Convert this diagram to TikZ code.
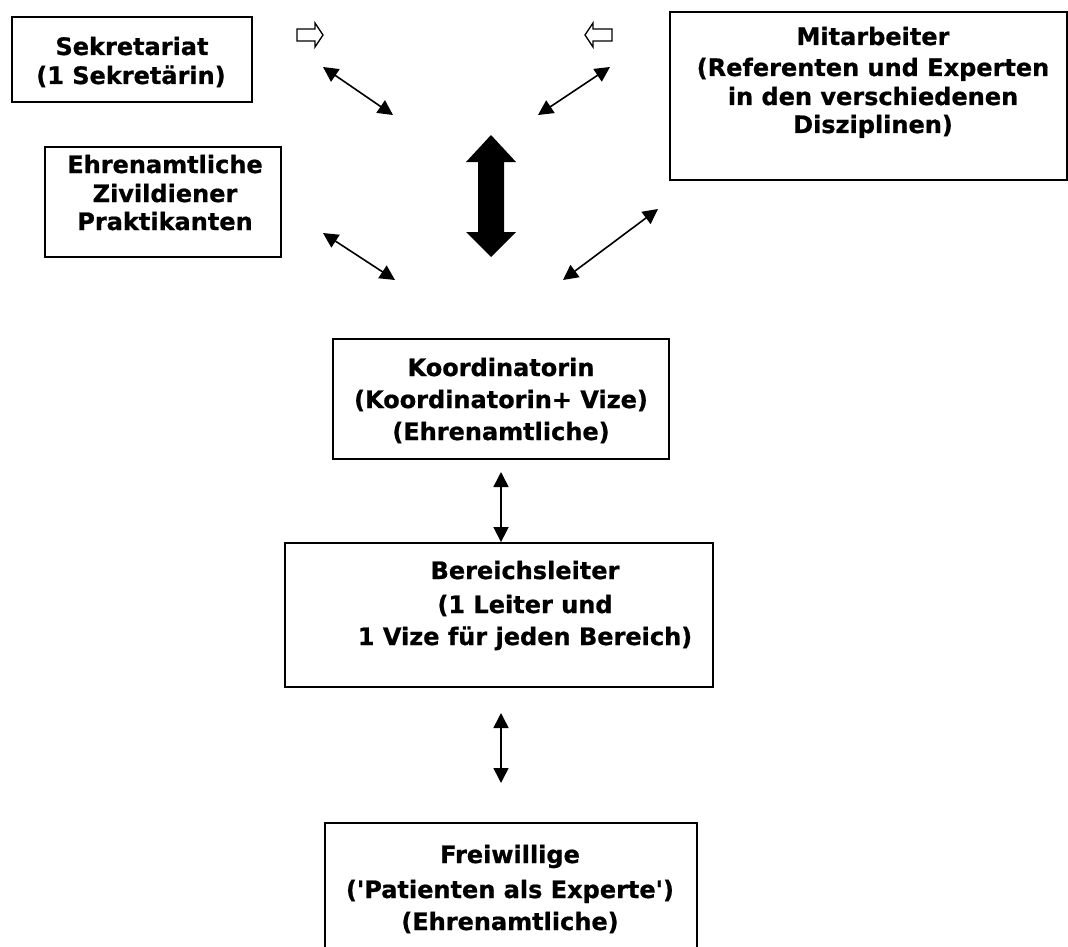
\documentclass[tikz,border=0pt]{standalone}
\usepackage{fontspec}
\setmainfont{DejaVu Sans}[Ligatures=TeXOff]
\newfontfamily\boxfont{DejaVu Sans Bold}[Ligatures=TeXOff,FakeBold=0.8]
\usetikzlibrary{arrows.meta}
\begin{document}
\begin{tikzpicture}[x=1pt,y=-1pt,
  box/.style={draw,line width=1.8pt,inner sep=0pt},
  lbl/.style={anchor=base,inner sep=0pt,font=\fontsize{24}{29}\selectfont\boxfont},
  dbl/.style={{Triangle[length=15pt,width=15pt]}-{Triangle[length=15pt,width=15pt]},line width=1.6pt},
  hollow/.style={draw,line width=1.3pt,line join=miter}]
\fill[white] (0,0) rectangle (1068,947);
\useasboundingbox (0,0) rectangle (1068,947);
% boxes
\node[box,minimum width=240pt,minimum height=85pt] (sek) at (132,59.5) {};
\node[box,minimum width=236pt,minimum height=110pt] (ehr) at (163,202) {};
\node[box,minimum width=397pt,minimum height=168pt] (mit) at (868.5,96) {};
\node[box,minimum width=336pt,minimum height=120pt] (koo) at (501,399) {};
\node[box,minimum width=428pt,minimum height=144pt] (ber) at (499,615) {};
\node[box,minimum width=372pt,minimum height=157pt] (fre) at (511,901.5) {};
% texts
\node[lbl] (sek1) at (132,55) {Sekretariat};
\node[lbl] (sek2) at (131,84) {(1 Sekretärin)};
\node[lbl] (ehr1) at (165,173) {Ehrenamtliche};
\node[lbl] (ehr2) at (165,202) {Zivildiener};
\node[lbl] (ehr3) at (165,230) {Praktikanten};
\node[lbl] (mit1) at (873,45) {Mitarbeiter};
\node[lbl] (mit2) at (873,76) {(Referenten und Experten};
\node[lbl] (mit3) at (873,105) {in den verschiedenen};
\node[lbl] (mit4) at (873,133) {Disziplinen)};
\node[lbl] (koo1) at (501,376) {Koordinatorin};
\node[lbl] (koo2) at (501,408) {(Koordinatorin+ Vize)};
\node[lbl] (koo3) at (501,440) {(Ehrenamtliche)};
\node[lbl] (ber1) at (525,579) {Bereichsleiter};
\node[lbl] (ber2) at (525,613) {(1 Leiter und};
\node[lbl] (ber3) at (525,645) {1 Vize für jeden Bereich)};
\node[lbl] (fre1) at (510,863) {Freiwillige};
\node[lbl] (fre2) at (510,898) {('Patienten als Experte')};
\node[lbl] (fre3) at (510,930) {(Ehrenamtliche)};
% free ends
\coordinate (a1s) at (323,67);  \coordinate (a1e) at (393,115);
\coordinate (a2s) at (610,67);  \coordinate (a2e) at (538,115);
\coordinate (a3s) at (323,233); \coordinate (a3e) at (395,280);
\coordinate (a4s) at (658,209); \coordinate (a4e) at (563,280);
\coordinate (k1) at (501,472);
\coordinate (b1) at (501,713); \coordinate (b2) at (501,783);
% connectors
\draw[dbl] (a1s) -- (a1e);
\draw[dbl] (a2s) -- (a2e);
\draw[dbl] (a3s) -- (a3e);
\draw[dbl] (a4s) -- (a4e);
\draw[dbl] (k1) -- (ber.north -| k1);
\draw[dbl] (b1) -- (b2);
% big double arrow
\fill (491,135) -- (516,162) -- (504,162) -- (504,232) -- (516,232) -- (491,257)
  -- (466,232) -- (478,232) -- (478,162) -- (466,162) -- cycle;
% hollow arrows
\draw[hollow] (297,29) -- (315,29) -- (315,23) -- (323,35) -- (315,47) -- (315,41) -- (297,41) -- cycle;
\draw[hollow] (612,29) -- (593,29) -- (593,23) -- (585,35) -- (593,47) -- (593,41) -- (612,41) -- cycle;
\end{tikzpicture}
\end{document}
